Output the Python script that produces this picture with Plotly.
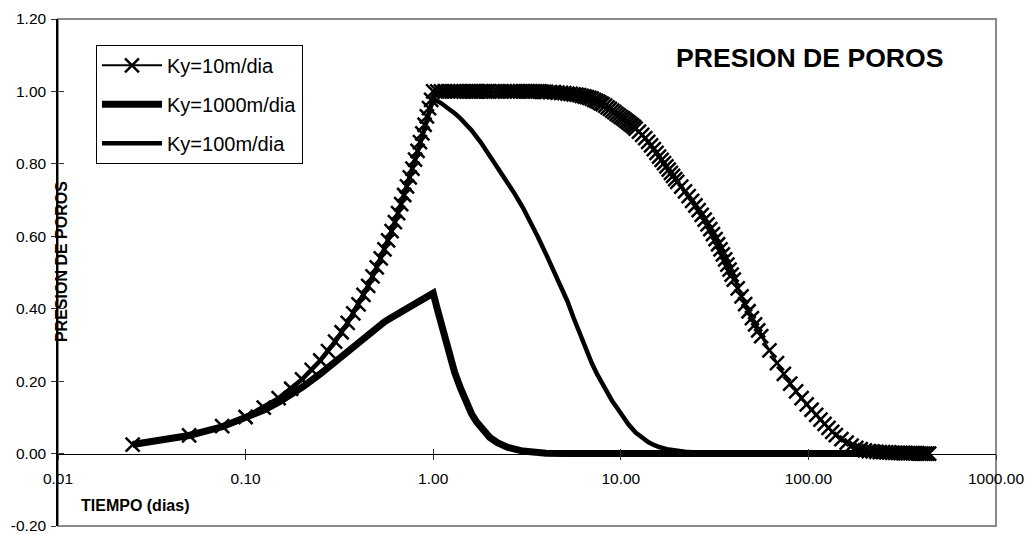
import plotly.graph_objects as go

FONT = "Liberation Sans, Arial, sans-serif"

# ---- Ky = 10 m/dia : loading ramp, plateau and slow dissipation ----
t10_rise = [0.025, 0.05, 0.075, 0.1, 0.125, 0.15, 0.175, 0.2, 0.225, 0.25,
            0.275, 0.3, 0.325, 0.35, 0.375, 0.4, 0.425, 0.45, 0.475, 0.5,
            0.525, 0.55, 0.575, 0.6, 0.625, 0.65, 0.675, 0.7, 0.725, 0.75,
            0.775, 0.8, 0.825, 0.85, 0.875, 0.9, 0.925, 0.95, 0.975, 1.0]
p10_rise = [0.025, 0.050, 0.076, 0.101, 0.127, 0.153, 0.179, 0.205, 0.231, 0.257,
            0.283, 0.309, 0.335, 0.361, 0.387, 0.412, 0.438, 0.463, 0.489, 0.514,
            0.539, 0.564, 0.589, 0.614, 0.639, 0.664, 0.689, 0.714, 0.738, 0.763,
            0.787, 0.812, 0.836, 0.860, 0.884, 0.908, 0.931, 0.954, 0.977, 1.000]

t10_a = [1.05, 1.1, 1.15, 1.2, 1.25, 1.3, 1.35, 1.4, 1.45, 1.5,
         1.55, 1.6, 1.65, 1.7, 1.75, 1.8, 1.85, 1.9, 1.95, 2.0]
p10_a = [1.000, 1.000, 1.000, 1.000, 1.000, 1.000, 1.000, 1.000, 1.000, 1.000,
         1.000, 1.000, 1.000, 1.000, 1.000, 1.000, 1.000, 1.000, 1.000, 1.000]

t10_b = [2.1, 2.2, 2.3, 2.4, 2.5, 2.6, 2.7, 2.8, 2.9, 3.0,
         3.1, 3.2, 3.3, 3.4, 3.5, 3.6, 3.7, 3.8, 3.9, 4.0]
p10_b = [1.000, 1.000, 1.000, 1.000, 1.000, 1.000, 1.000, 1.000, 1.000, 1.000,
         1.000, 1.000, 1.000, 1.000, 1.000, 1.000, 1.000, 0.999, 0.999, 0.999]

t10_c = [4.2, 4.4, 4.6, 4.8, 5.0, 5.2, 5.4, 5.6, 5.8, 6.0,
         6.2, 6.4, 6.6, 6.8, 7.0, 7.2, 7.4, 7.6, 7.8, 8.0]
p10_c = [0.998, 0.998, 0.997, 0.996, 0.995, 0.994, 0.993, 0.992, 0.991, 0.990,
         0.988, 0.986, 0.984, 0.982, 0.980, 0.977, 0.974, 0.971, 0.968, 0.965]

t10_d = [8.25, 8.5, 8.75, 9.0, 9.25, 9.5, 9.75, 10.0, 10.25, 10.5,
         10.75, 11.0, 11.25, 11.5, 11.75, 12.0, 12.5, 13.0, 13.5, 14.0,
         14.5, 15.0, 15.5, 16.0]
p10_d = [0.961, 0.956, 0.952, 0.947, 0.943, 0.938, 0.934, 0.930, 0.926, 0.922,
         0.918, 0.914, 0.910, 0.906, 0.902, 0.897, 0.889, 0.880, 0.871, 0.861,
         0.851, 0.841, 0.830, 0.820]

t10_e = [16.5, 17, 17.5, 18, 18.5, 19, 19.5, 20, 21, 22, 23, 24, 25, 26,
         27, 28, 29, 30, 31, 32]
p10_e = [0.811, 0.802, 0.793, 0.784, 0.775, 0.767, 0.758, 0.750, 0.737, 0.724,
         0.711, 0.698, 0.685, 0.672, 0.659, 0.646, 0.633, 0.620, 0.606, 0.592]

t10_f = [33, 34, 35, 36, 37, 38, 39, 40, 42, 44, 46, 48, 50, 52, 54, 56]
p10_f = [0.578, 0.564, 0.550, 0.536, 0.522, 0.508, 0.494, 0.480, 0.456, 0.434,
         0.413, 0.393, 0.374, 0.357, 0.340, 0.324]

t10_g = [62, 68, 74, 80, 86, 92, 98, 104, 110, 116, 122, 128, 134, 140]
p10_g = [0.285, 0.250, 0.220, 0.193, 0.172, 0.153, 0.136, 0.121, 0.107, 0.094,
         0.082, 0.071, 0.060, 0.051]

t10_h = [150, 160, 170, 180, 190, 200, 210, 220, 230, 240,
         250, 260, 270, 280, 290, 300, 310, 320, 330, 340,
         350, 360, 370, 380, 390, 400, 410, 420, 430, 440]
p10_h = [0.040, 0.030, 0.022, 0.016, 0.012, 0.009, 0.007, 0.006, 0.005, 0.004,
         0.004, 0.003, 0.003, 0.002, 0.002, 0.002, 0.001, 0.001, 0.001, 0.001,
         0.001, 0.001, 0.001, 0.001, 0.000, 0.000, 0.000, 0.000, 0.000, 0.000]

# ---- Ky = 1000 m/dia : low peak, fast dissipation ----
t1000 = [0.025, 0.05, 0.075, 0.1, 0.125, 0.15, 0.175, 0.2,
         0.25, 0.3, 0.35, 0.4, 0.45, 0.5,
         0.55, 0.6, 0.65, 0.7, 0.75, 0.8, 0.85, 0.9, 0.95, 1.0,
         1.05, 1.1, 1.2, 1.3, 1.4, 1.5, 1.6, 1.7, 1.8, 2.0,
         2.2, 2.5, 3.0, 3.5, 4.0, 5.0,
         10, 20, 50, 100, 200, 450]
p1000 = [0.025, 0.050, 0.074, 0.098, 0.120, 0.142, 0.163, 0.183,
         0.220, 0.253, 0.283, 0.310, 0.332, 0.350,
         0.364, 0.376, 0.387, 0.397, 0.406, 0.414, 0.421, 0.428, 0.435, 0.443,
         0.400, 0.360, 0.290, 0.225, 0.180, 0.140, 0.110, 0.088, 0.070, 0.045,
         0.030, 0.017, 0.007, 0.003, 0.001, 0.000,
         0.000, 0.000, 0.000, 0.000, 0.000, 0.000]

# ---- Ky = 100 m/dia : full peak, intermediate dissipation ----
t100 = [0.025, 0.05, 0.075, 0.1, 0.15, 0.2, 0.25, 0.3, 0.35, 0.4,
        0.45, 0.5, 0.55, 0.6, 0.65, 0.7, 0.75, 0.8, 0.85, 0.9,
        0.95, 1.0, 1.1, 1.2, 1.3, 1.4, 1.5, 1.6, 1.8, 2.0,
        2.2, 2.4, 2.7, 3.0, 3.3, 3.6, 4.0, 4.4, 4.8, 5.2,
        5.6, 6.0, 6.5, 7.0, 7.5, 8.0, 8.5, 9.0, 9.5, 10,
        11, 12, 13, 14, 15, 16, 18, 20, 22, 25,
        30, 35, 40, 50, 100, 200, 450]
p100 = [0.025, 0.050, 0.076, 0.101, 0.153, 0.205, 0.257, 0.309, 0.361, 0.412,
        0.463, 0.514, 0.564, 0.614, 0.664, 0.714, 0.763, 0.810, 0.854, 0.898,
        0.940, 0.980, 0.968, 0.955, 0.940, 0.925, 0.910, 0.893, 0.858, 0.823,
        0.790, 0.760, 0.720, 0.680, 0.640, 0.600, 0.550, 0.505, 0.460, 0.420,
        0.375, 0.335, 0.290, 0.250, 0.218, 0.190, 0.165, 0.145, 0.128, 0.110,
        0.080, 0.058, 0.043, 0.032, 0.024, 0.018, 0.011, 0.007, 0.005, 0.003,
        0.001, 0.000, 0.000, 0.000, 0.000, 0.000, 0.000]

x_ticks = [0.01, 0.1, 1, 10, 100, 1000]
x_ticktext = ["0.01", "0.10", "1.00", "10.00", "100.00", "1000.00"]
y_ticks = [-0.2, 0.0, 0.2, 0.4, 0.6, 0.8, 1.0, 1.2]
y_ticktext = ["-0.20", "0.00", "0.20", "0.40", "0.60", "0.80", "1.00", "1.20"]

t_ky10 = t10_rise + t10_a + t10_b + t10_c + t10_d + t10_e + t10_f + t10_g + t10_h
p_ky10 = p10_rise + p10_a + p10_b + p10_c + p10_d + p10_e + p10_f + p10_g + p10_h

fig = go.Figure()

fig.add_trace(go.Scatter(
    x=t_ky10, y=p_ky10, name="Ky=10m/dia", legendgroup="g1",
    mode="lines+markers",
    line=dict(color="black", width=2),
    marker=dict(symbol="x-thin", size=14, color="black",
                line=dict(color="black", width=2.5)),
    hoverinfo="skip",
))
fig.add_trace(go.Scatter(
    x=t1000, y=p1000, name="Ky=1000m/dia", legendgroup="g2",
    mode="lines",
    line=dict(color="black", width=7),
    hoverinfo="skip",
))
fig.add_trace(go.Scatter(
    x=t100, y=p100, name="Ky=100m/dia", legendgroup="g3",
    mode="lines",
    line=dict(color="black", width=4.5),
    hoverinfo="skip",
))
# empty helper trace so the overlaid tick axes are rendered
fig.add_trace(go.Scatter(x=[], y=[], xaxis="x2", yaxis="y2",
                         showlegend=False, hoverinfo="skip"))

X_AT_ZERO = 0.2 / 1.4  # fraction of the plot height where y = 0

fig.update_layout(
    width=1028, height=534,
    margin=dict(l=58, r=32, t=19, b=8, autoexpand=False),
    paper_bgcolor="white", plot_bgcolor="white",
    font=dict(family=FONT, color="black"),
    showlegend=True,
    xaxis=dict(
        type="log", range=[-2, 3], anchor="free", position=X_AT_ZERO,
        tickmode="array", tickvals=x_ticks, ticktext=x_ticktext,
        ticks="outside", ticklen=5, tickwidth=1, tickcolor="#333333",
        showline=True, linecolor="black", linewidth=1,
        showgrid=False, zeroline=False, automargin=False,
        tickfont=dict(size=15.5, family=FONT, color="black"),
        ticklabelstandoff=6, ticklabeloverflow="allow",
    ),
    xaxis2=dict(
        type="log", range=[-2, 3], overlaying="x", anchor="free",
        position=X_AT_ZERO, tickmode="array", tickvals=x_ticks,
        ticks="inside", ticklen=5, tickwidth=1, tickcolor="#333333",
        showticklabels=False, showline=False, showgrid=False, zeroline=False,
        automargin=False,
    ),
    yaxis=dict(
        range=[-0.2, 1.2], tickmode="array", tickvals=y_ticks, ticktext=y_ticktext,
        ticks="outside", ticklen=5, tickwidth=1, tickcolor="#333333",
        showline=True, linecolor="black", linewidth=1.5,
        showgrid=False, zeroline=False, automargin=False,
        tickfont=dict(size=15.5, family=FONT, color="black"),
        ticklabelstandoff=2, ticklabeloverflow="allow",
    ),
    yaxis2=dict(
        range=[-0.2, 1.2], overlaying="y", anchor="free", position=0, side="left",
        tickmode="array", tickvals=y_ticks,
        ticks="inside", ticklen=5, tickwidth=1, tickcolor="#333333",
        showticklabels=False, showline=False, showgrid=False, zeroline=False,
        automargin=False,
    ),
    legend=dict(
        x=0.0405, y=0.949, xanchor="left", yanchor="top",
        bgcolor="white", bordercolor="black", borderwidth=1,
        font=dict(size=20, family=FONT, color="black"),
        tracegroupgap=10, itemwidth=60,
    ),
    shapes=[dict(
        type="rect", xref="paper", yref="paper", x0=0, x1=1, y0=0, y1=1,
        line=dict(color="#8a8a8a", width=2), layer="below",
    )],
    annotations=[
        dict(text="<b>PRESION DE POROS</b>", xref="paper", yref="paper",
             x=0.8017, y=0.9234, xanchor="center", yanchor="middle",
             showarrow=False, font=dict(size=26.6, family=FONT, color="black")),
        dict(text="<b>PRESION DE POROS</b>", xref="paper", yref="paper",
             x=0.0032, y=0.5206, xanchor="center", yanchor="middle", textangle=-90,
             showarrow=False, font=dict(size=16, family=FONT, color="black")),
        dict(text="<b>TIEMPO (dias)</b>", xref="paper", yref="paper",
             x=0.0224, y=0.0413, xanchor="left", yanchor="middle",
             showarrow=False, font=dict(size=16, family=FONT, color="black")),
    ],
)

fig.write_html("out.html")
